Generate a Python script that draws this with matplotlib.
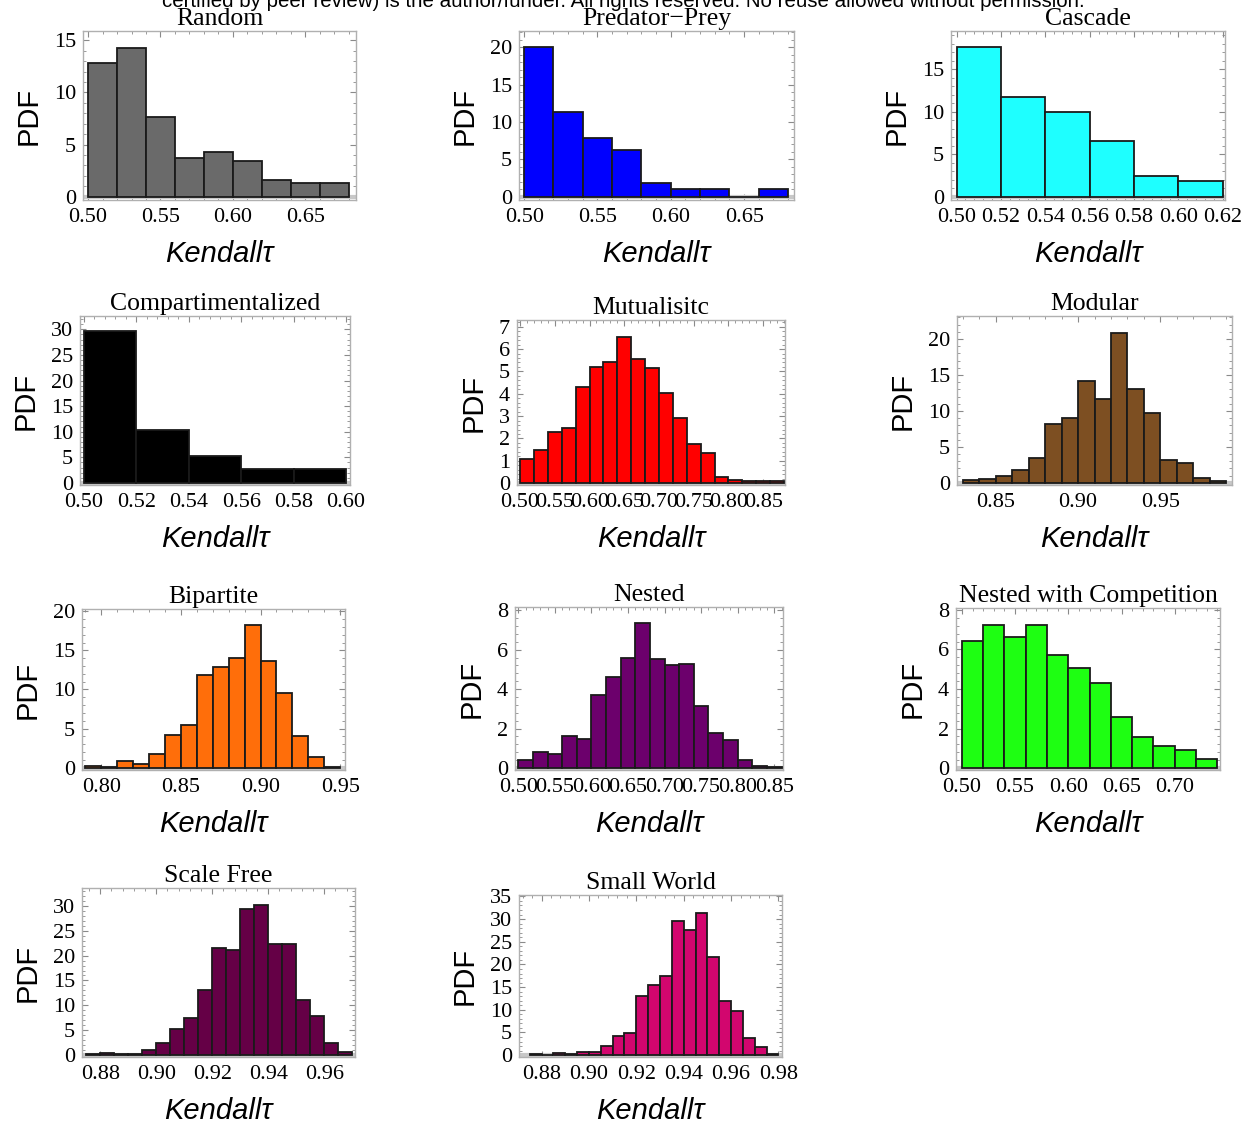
import numpy as np
import matplotlib
matplotlib.use("Agg")
import matplotlib.pyplot as plt
from matplotlib.ticker import AutoMinorLocator, FormatStrFormatter

# histogram heights (PDF) per network type, bins given as (first edge, width)
random_pdf = [12.8, 14.3, 7.6, 3.7, 4.3, 3.4, 1.6, 1.3, 1.3]
random_bins = (0.50, 0.02)

predprey_pdf = [20.1, 11.4, 7.9, 6.2, 1.8, 1.0, 1.0, 0.0, 1.0]
predprey_bins = (0.50, 0.02)

cascade_pdf = [17.6, 11.7, 10.0, 6.5, 2.4, 1.8]
cascade_bins = (0.50, 0.02)

compart_pdf = [29.6, 10.4, 5.3, 2.7, 2.7]
compart_bins = (0.50, 0.02)

mutual_pdf = [1.1, 1.5, 2.27, 2.48, 4.3, 5.2, 5.4, 6.55, 5.57, 5.15,
              4.03, 2.93, 1.76, 1.34, 0.3, 0.15, 0.09, 0.09, 0.09]
mutual_bins = (0.50, 0.02)

modular_pdf = [0.37, 0.55, 1.0, 1.85, 3.5, 8.2, 9.05, 14.2, 11.7, 20.8,
               13.0, 9.7, 3.2, 2.7, 0.7, 0.2]
modular_bins = (0.83, 0.01)

bipartite_pdf = [0.25, 0.1, 0.8, 0.5, 1.8, 4.2, 5.5, 11.8, 12.9, 14.0,
                 18.2, 13.6, 9.6, 4.1, 1.4, 0.1]
bipartite_bins = (0.79, 0.01)

nested_pdf = [0.4, 0.8, 0.72, 1.63, 1.48, 3.7, 4.6, 5.6, 7.34, 5.55,
              5.24, 5.25, 3.15, 1.75, 1.4, 0.4, 0.12, 0.06]
nested_bins = (0.50, 0.02)

nestcomp_pdf = [6.45, 7.25, 6.65, 7.25, 5.7, 5.05, 4.3, 2.6, 1.55, 1.1, 0.9, 0.45]
nestcomp_bins = (0.50, 0.02)

scalefree_pdf = [0.25, 0.4, 0.3, 0.3, 1.0, 2.5, 5.3, 7.4, 13.0, 21.6,
                 21.2, 29.4, 30.2, 22.4, 22.4, 11.1, 7.9, 2.5, 0.7]
scalefree_bins = (0.875, 0.005)

smallworld_pdf = [0.3, 0.0, 0.4, 0.3, 0.6, 0.8, 2.1, 4.3, 4.8, 13.0, 15.5,
                  17.5, 29.5, 27.5, 31.4, 21.7, 12.0, 9.8, 3.7, 1.8, 0.3]
smallworld_bins = (0.875, 0.005)

titles = ["Random", "Predator\u2212Prey", "Cascade", "Compartimentalized",
          "Mutualisitc", "Modular", "Bipartite", "Nested",
          "Nested with Competition", "Scale Free", "Small World"]

# panel: data, bins, colour, pixel box (x0, y0, x1, y1), xlim, ylim, xticks, yticks
panels = [
    (random_pdf, random_bins, "#6a6a6a", (83, 31, 356, 200),
     (0.4965, 0.685), (-0.32, 15.9), [0.50, 0.55, 0.60, 0.65], range(0, 16, 5)),
    (predprey_pdf, predprey_bins, "#0000ff", (519, 31, 794, 200),
     (0.4965, 0.684), (-0.45, 22.2), [0.50, 0.55, 0.60, 0.65], range(0, 21, 5)),
    (cascade_pdf, cascade_bins, "#1effff", (951, 31, 1225, 200),
     (0.4975, 0.621), (-0.4, 19.5), [0.50, 0.52, 0.54, 0.56, 0.58, 0.60, 0.62], range(0, 16, 5)),
    (compart_pdf, compart_bins, "#000000", (80, 316, 350, 485),
     (0.4985, 0.6015), (-0.4, 32.6), [0.50, 0.52, 0.54, 0.56, 0.58, 0.60], range(0, 31, 5)),
    (mutual_pdf, mutual_bins, "#ff0000", (517, 320, 785, 485),
     (0.4955, 0.8815), (-0.08, 7.3), [0.50, 0.55, 0.60, 0.65, 0.70, 0.75, 0.80, 0.85], range(0, 8)),
    (modular_pdf, modular_bins, "#7d4f22", (957, 316, 1232, 485),
     (0.8265, 0.9935), (-0.3, 23.2), [0.85, 0.90, 0.95], range(0, 21, 5)),
    (bipartite_pdf, bipartite_bins, "#ff6e0a", (82, 609, 345, 770),
     (0.788, 0.953), (-0.3, 20.3), [0.80, 0.85, 0.90, 0.95], range(0, 21, 5)),
    (nested_pdf, nested_bins, "#6c006c", (515, 607, 783, 770),
     (0.4955, 0.862), (-0.1, 8.16), [0.50, 0.55, 0.60, 0.65, 0.70, 0.75, 0.80, 0.85], range(0, 9, 2)),
    (nestcomp_pdf, nestcomp_bins, "#1eff12", (956, 608, 1220, 770),
     (0.4945, 0.7425), (-0.1, 8.1), [0.50, 0.55, 0.60, 0.65, 0.70], range(0, 9, 2)),
    (scalefree_pdf, scalefree_bins, "#650046", (82, 888, 355, 1057),
     (0.8735, 0.971), (-0.4, 33.6), [0.88, 0.90, 0.92, 0.94, 0.96], range(0, 31, 5)),
    (smallworld_pdf, smallworld_bins, "#d2066e", (519, 895, 782, 1057),
     (0.8705, 0.9815), (-0.4, 35.3), [0.88, 0.90, 0.92, 0.94, 0.96, 0.98], range(0, 36, 5)),
]

W, H = 1246, 1124
fig = plt.figure(figsize=(W / 100, H / 100), dpi=100)

serif = "Liberation Serif"
sans = "Liberation Sans"

fig.text(0.5, 1.0 + 0.007, "certified by peer review) is the author/funder. All rights reserved. "
         "No reuse allowed without permission.",
         ha="center", va="top", fontsize=14.8, family=sans)

for (pdf, (x0, dx), color, box, xlim, ylim, xt, yt), title in zip(panels, titles):
    bx0, by0, bx1, by1 = box
    ax = fig.add_axes([bx0 / W, 1 - by1 / H, (bx1 - bx0) / W, (by1 - by0) / H])
    lefts = [round(x0 + i * dx, 4) for i in range(len(pdf))]
    ax.bar(lefts, pdf, width=dx, align="edge", color=color,
           edgecolor="#1a1a1a", linewidth=1.3, zorder=3)
    ax.axhline(0, color="#c8c8c8", linewidth=3, zorder=2)
    ax.set_xlim(*xlim)
    ax.set_ylim(*ylim)
    ax.set_xticks(xt)
    ax.set_yticks(list(yt))
    ax.xaxis.set_major_formatter(FormatStrFormatter("%.2f"))
    ax.xaxis.set_minor_locator(AutoMinorLocator(5))
    ax.yaxis.set_minor_locator(AutoMinorLocator(5))
    ax.tick_params(which="both", direction="in", top=True, right=True,
                   color="#8a8a8a", labelsize=16)
    ax.tick_params(axis="x", pad=6)
    ax.tick_params(axis="y", pad=5)
    ax.tick_params(which="major", length=4, width=0.8)
    ax.tick_params(which="minor", length=2, width=0.6)
    for lab in ax.get_xticklabels() + ax.get_yticklabels():
        lab.set_family(serif)
    for sp in ax.spines.values():
        sp.set_color("#b0b0b0")
        sp.set_linewidth(1.0)
    ax.set_title(title, family=serif, fontsize=18.5, pad=4)
    ax.set_ylabel("PDF", family=sans, fontsize=21, labelpad=8)
    ax.set_xlabel("Kendall\u03c4", family=sans, style="italic", fontsize=21, labelpad=9)

fig.savefig("out.png", dpi=100, facecolor="white")
